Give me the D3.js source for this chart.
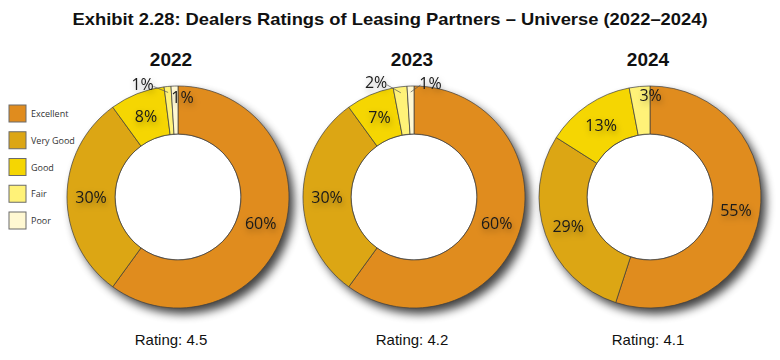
<!DOCTYPE html>
<html>
<head>
<meta charset="utf-8">
<script src="https://cdn.jsdelivr.net/npm/d3@7"></script>
<style>
  html, body { margin: 0; padding: 0; background: #fff; }
  svg { display: block; }
</style>
</head>
<body>
<svg id="chart" width="780" height="360"></svg>
<script>
// ---- data ----
const chartTitle = "Exhibit 2.28: Dealers Ratings of Leasing Partners – Universe (2022–2024)";
const years = ["2022", "2023", "2024"];
const categories = ["Excellent", "Very Good", "Good", "Fair", "Poor"];
const values2022 = [60, 30, 8, 1, 1];
const values2023 = [60, 30, 7, 2, 1];
const values2024 = [55, 29, 13, 3, 0];
const ratings = ["4.5", "4.2", "4.1"];

// ---- styles / layout ----
const colors = ["#E08C1E", "#DCA614", "#F5D602", "#FFF278", "#FFF8D2"];
const W = 780, H = 360;
const cy = 197, rOuter = 111, rInner = 63;
// small-slice label placement (relative to slice's outer-edge midpoint)
const smallLabelLayout = {
  "2022|Fair": { dx: -25, dy: -2, leader: "left" },
  "2022|Poor": { dx: 8, dy: 11, leader: null },
  "2023|Fair": { dx: -24, dy: -4, leader: "left" },
  "2023|Poor": { dx: 20, dy: -3, leader: "right" },
  "2024|Fair": { dx: 11, dy: 9, leader: null }
};
const titleShift = [-7, -2, -2];

const seriesByYear = [values2022, values2023, values2024];

const svg = d3.select("#chart");
const defs = svg.append("defs");
const sh = defs.append("filter").attr("id", "ringShadow")
  .attr("x", "-20%").attr("y", "-20%").attr("width", "150%").attr("height", "150%");
sh.append("feGaussianBlur").attr("stdDeviation", 5);
const ts = defs.append("filter").attr("id", "textShadow")
  .attr("x", "-50%").attr("y", "-50%").attr("width", "200%").attr("height", "200%");
ts.append("feDropShadow").attr("dx", 1).attr("dy", 3).attr("stdDeviation", 3)
  .attr("flood-color", "#000").attr("flood-opacity", 0.35);

// title
svg.append("text")
  .attr("x", W / 2).attr("y", 25)
  .attr("text-anchor", "middle")
  .attr("font-family", "'Liberation Sans', Arial, sans-serif")
  .attr("font-weight", "bold")
  .attr("font-size", 17)
  .attr("textLength", 635)
  .attr("lengthAdjust", "spacingAndGlyphs")
  .attr("fill", "#111")
  .text(chartTitle);

// legend
const legend = svg.append("g").attr("transform", "translate(9,105)");
const legendY = d3.scalePoint().domain(categories).range([0, 107]);
categories.forEach((c, i) => {
  const g = legend.append("g").attr("transform", `translate(0,${legendY(c)})`);
  g.append("rect").attr("width", 17).attr("height", 17)
    .attr("fill", colors[i]).attr("stroke", "#6b6b6b").attr("stroke-width", 1);
  g.append("text").attr("x", 22).attr("y", 12)
    .attr("font-family", "'Open Sans', 'Noto Sans', sans-serif")
    .attr("font-size", 9).attr("fill", "#333").text(c);
});

const x = d3.scalePoint().domain(years).range([178, 650]);
const pie = d3.pie().sort(null).value(d => d).startAngle(0).endAngle(2 * Math.PI);
const arc = d3.arc().innerRadius(rInner).outerRadius(rOuter);
const labelArc = d3.arc().innerRadius((rInner + rOuter) / 2).outerRadius((rInner + rOuter) / 2);

years.forEach((yr, yi) => {
  const cx = x(yr);
  const g = svg.append("g").attr("transform", `translate(${cx},${cy})`);
  const data = categories.map((c, i) => ({ cat: c, value: seriesByYear[yi][i], color: colors[i] }));
  const arcs = pie(data.map(d => d.value)).map((a, i) => Object.assign(a, { info: data[i] }));

  // drop shadow disc
  g.append("circle").attr("cx", 5).attr("cy", 6).attr("r", rOuter)
    .attr("fill", "#000").attr("opacity", 0.75).attr("filter", "url(#ringShadow)");
  // hole
  g.append("circle").attr("r", rInner).attr("fill", "#fff")
    .attr("stroke", "#555").attr("stroke-width", 0.8);
  // slices
  g.selectAll("path.slice").data(arcs.filter(a => a.value > 0)).join("path")
    .attr("class", "slice")
    .attr("d", arc)
    .attr("fill", a => a.info.color)
    .attr("stroke", "#3f3f3f").attr("stroke-width", 0.7);

  // labels
  const lg = g.append("g")
    .attr("font-family", "'Open Sans', 'Noto Sans', sans-serif")
    .attr("font-size", 16).attr("fill", "#1a1a1a");
  arcs.forEach(a => {
    if (a.value <= 0) return;
    const key = yr + "|" + a.info.cat;
    const mid = (a.startAngle + a.endAngle) / 2;
    const txt = a.value + "%";
    if (smallLabelLayout[key]) {
      const L = smallLabelLayout[key];
      const px = Math.sin(mid) * rOuter, py = -Math.cos(mid) * rOuter;
      const tx = px + L.dx, ty = py + L.dy;
      lg.append("text").attr("x", tx).attr("y", ty).attr("dy", "0.35em")
        .attr("text-anchor", "middle").attr("filter", "url(#textShadow)").text(txt);
      if (L.leader) {
        const sx = L.leader === "left" ? tx + 11 : tx - 10;
        const ex = Math.sin(mid) * (rOuter - 6), ey = -Math.cos(mid) * (rOuter - 6);
        lg.append("line").attr("x1", sx).attr("y1", ty + 2).attr("x2", ex).attr("y2", ey)
          .attr("stroke", "#555").attr("stroke-width", 0.7);
      }
    } else {
      const [lx, ly] = labelArc.centroid(a);
      lg.append("text").attr("x", lx).attr("y", ly).attr("dy", "0.35em")
        .attr("text-anchor", "middle").attr("filter", "url(#textShadow)").text(txt);
    }
  });

  // year title
  svg.append("text").attr("x", cx + titleShift[yi]).attr("y", 66)
    .attr("text-anchor", "middle")
    .attr("font-family", "'Liberation Sans', Arial, sans-serif")
    .attr("font-weight", "bold").attr("font-size", 19).attr("fill", "#111")
    .text(yr);
  // rating
  svg.append("text").attr("x", cx + titleShift[yi]).attr("y", 345)
    .attr("text-anchor", "middle")
    .attr("font-family", "'Liberation Sans', Arial, sans-serif")
    .attr("font-size", 15).attr("fill", "#111")
    .text("Rating: " + ratings[yi]);
});
</script>
</body>
</html>
